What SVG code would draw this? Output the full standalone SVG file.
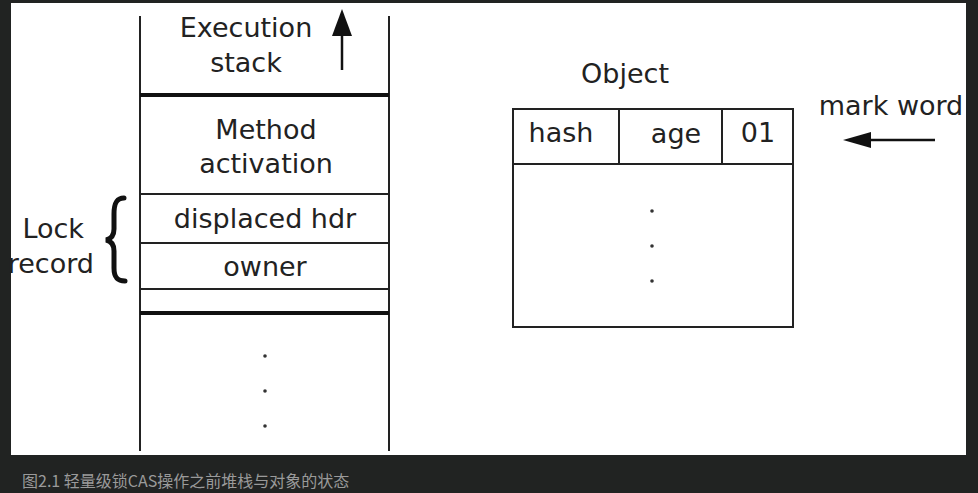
<svg xmlns="http://www.w3.org/2000/svg" width="978" height="493" viewBox="0 0 978 493">
<defs>
<style>
.t{font-family:"DejaVu Sans","Liberation Sans",sans-serif;font-size:27px;fill:#222;}
.c{text-anchor:middle;}
.ln{stroke:#222;stroke-width:2;fill:none;}
.thick{stroke:#111;stroke-width:4;}
.dot{fill:#333;}
.cap{font-family:"Noto Sans CJK SC","Liberation Sans",sans-serif;font-size:16px;fill:#9a9a9a;}
</style>
</defs>
<rect x="0" y="0" width="978" height="493" fill="#212322"/>
<rect x="11" y="3" width="955" height="452" fill="#ffffff"/>

<g id="stack">
<line class="ln" x1="140" y1="16" x2="140" y2="451"/>
<line class="ln" x1="389" y1="16" x2="389" y2="451"/>
<line class="ln thick" x1="140" y1="95" x2="389" y2="95"/>
<line class="ln" x1="140" y1="194" x2="389" y2="194"/>
<line class="ln" x1="140" y1="243" x2="389" y2="243"/>
<line class="ln" x1="140" y1="289" x2="389" y2="289"/>
<line class="ln thick" x1="140" y1="313" x2="389" y2="313"/>
</g>

<g id="execution-stack">
<text class="t c" x="246" y="37">Execution</text>
<text class="t c" x="246" y="72">stack</text>
</g>
<g id="method-activation">
<text class="t c" x="266" y="139">Method</text>
<text class="t c" x="266" y="173">activation</text>
</g>
<g id="displaced-hdr">
<text class="t c" x="265" y="228">displaced hdr</text>
</g>
<g id="owner">
<text class="t c" x="265" y="276">owner</text>
</g>
<g id="stack-dots">
<circle class="dot" cx="265" cy="356" r="1.8"/>
<circle class="dot" cx="265" cy="391" r="1.8"/>
<circle class="dot" cx="265" cy="426" r="1.8"/>
</g>

<g id="lock-record">
<text class="t" x="84" y="238" text-anchor="end">Lock</text>
<text class="t" x="94" y="273" text-anchor="end">record</text>
<path d="M124,198 C116,198 114,204 114,214 L114,229 C114,236 111,239 106,240 C111,241 114,244 114,251 L114,268 C114,277 117,281 125,281" fill="none" stroke="#111" stroke-width="5" stroke-linecap="round"/>
</g>

<g id="object">
<text class="t c" x="625" y="83">Object</text>
<rect class="ln" x="513" y="109" width="280" height="218"/>
<line class="ln" x1="513" y1="164" x2="793" y2="164"/>
<line class="ln" x1="619" y1="109" x2="619" y2="164"/>
<line class="ln" x1="722" y1="109" x2="722" y2="164"/>
<text class="t c" x="561" y="142">hash</text>
<text class="t c" x="676" y="143">age</text>
<text class="t c" x="758" y="142">01</text>
<circle class="dot" cx="652" cy="211" r="1.8"/>
<circle class="dot" cx="652" cy="246" r="1.8"/>
<circle class="dot" cx="652" cy="281" r="1.8"/>
</g>

<g id="mark-word">
<text class="t" x="891" y="115" text-anchor="middle">mark word</text>
</g>

<g id="connectors">
<line x1="342" y1="70" x2="342" y2="14" stroke="#111" stroke-width="2.5"/>
<path d="M342,9 L352,36 L332,36 z" fill="#111"/>
<line x1="935" y1="140" x2="866" y2="140" stroke="#111" stroke-width="2.5"/>
<path d="M843,140 L871,132 L871,148 z" fill="#111"/>
</g>

<text class="cap" x="22" y="487">图2.1 轻量级锁CAS操作之前堆栈与对象的状态</text>
</svg>
